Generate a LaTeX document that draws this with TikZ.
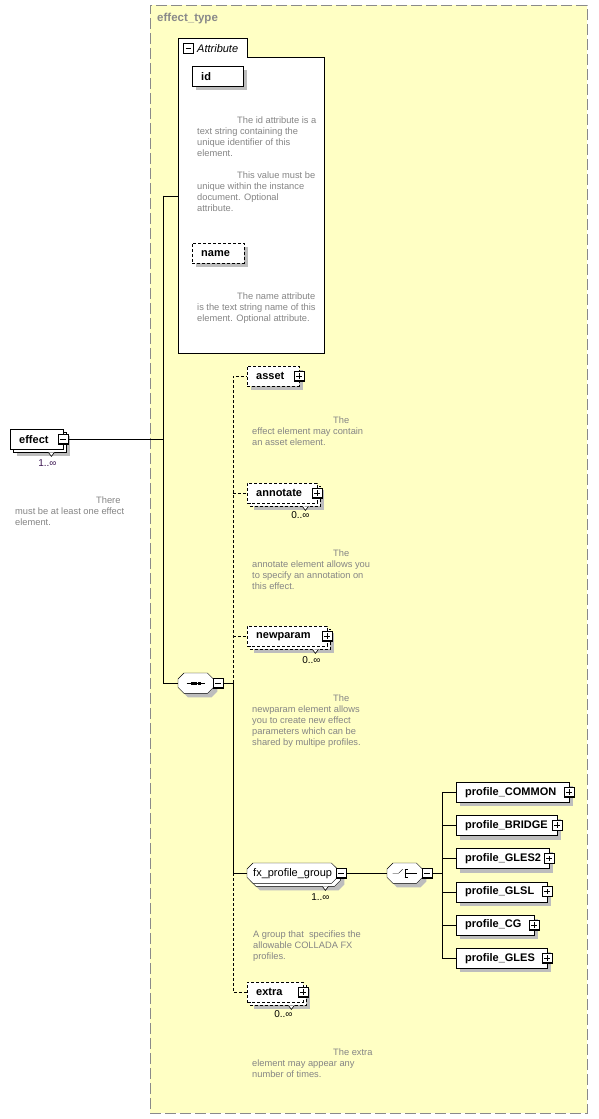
\documentclass[tikz,border=0pt]{standalone}
\usepackage{fontspec}
\setmainfont{Liberation Sans}
\usepackage{tikz}
\usetikzlibrary{positioning}
\usepackage{xcolor}
\definecolor{TypeFill}{HTML}{FFFFC4}
\definecolor{TypeLine}{HTML}{8A8A8A}
\definecolor{DocGray}{HTML}{858585}
\definecolor{ShadowGray}{HTML}{BDBDBD}
\definecolor{OccPurple}{HTML}{3A1450}

\newcommand{\xsdname}{\fontsize{11}{12}\selectfont\bfseries\hyphenpenalty=10000\relax}
\newcommand{\xsdplain}{\fontsize{11}{12}\selectfont\hyphenpenalty=10000\relax}
\newcommand{\xsddoc}{\fontsize{9.3}{11}\selectfont}
\newcommand{\xsdocc}{\fontsize{10}{12}\selectfont}
% octagon round node #1, moved by #2 pt to the lower right
\newcommand{\octo}[2]{([xshift=#2pt+6pt,yshift=-#2pt]#1.north west) -- ([xshift=#2pt-6pt,yshift=-#2pt]#1.north east)
  -- ([xshift=#2pt,yshift=-#2pt-6pt]#1.north east) -- ([xshift=#2pt,yshift=-#2pt+6pt]#1.south east)
  -- ([xshift=#2pt-6pt,yshift=-#2pt]#1.south east) -- ([xshift=#2pt+6pt,yshift=-#2pt]#1.south west)
  -- ([xshift=#2pt,yshift=-#2pt+6pt]#1.south west) -- ([xshift=#2pt,yshift=-#2pt-6pt]#1.north west) -- cycle}

\pgfdeclarelayer{frame}
\pgfdeclarelayer{shade}
\pgfsetlayers{frame,shade,main}

\begin{document}
\begin{tikzpicture}[x=1pt, y=-1pt, line width=0.9pt,
    elem/.style={draw, fill=white, minimum height=20pt, inner xsep=9pt, inner ysep=0pt,
                 text width=#1, align=left, font=\xsdname, anchor=north west},
    opt/.style={dash pattern=on 3pt off 2pt},
    shadowfill/.style={fill=ShadowGray, draw=none},
    btn/.style={draw, fill=white, line width=0.7pt, minimum size=10pt, inner sep=0pt},
    minusbtn/.style={btn, path picture={
        \draw[line width=1.6pt] (path picture bounding box.north east) -- (path picture bounding box.south east)
              -- (path picture bounding box.south west);
        \draw[line width=0.8pt] ([xshift=2pt]path picture bounding box.west) -- ([xshift=-2.5pt]path picture bounding box.east);}},
    plusbtn/.style={btn, path picture={
        \draw[line width=1.6pt] (path picture bounding box.north east) -- (path picture bounding box.south east)
              -- (path picture bounding box.south west);
        \draw[line width=0.8pt] ([xshift=2pt]path picture bounding box.west) -- ([xshift=-2.5pt]path picture bounding box.east)
              ([xshift=-0.3pt,yshift=2.5pt]path picture bounding box.south) -- ([xshift=-0.3pt,yshift=-2pt]path picture bounding box.north);}},
    comp/.style={minimum width=35pt, minimum height=20pt, inner sep=0pt, anchor=north west},
    doc/.style={anchor=north west, inner sep=0pt, align=left, font=\xsddoc, text=DocGray},
    occ/.style={font=\xsdocc, inner sep=0pt}
  ]
  \begin{pgfonlayer}{frame}
    \path[use as bounding box, fill=white] (0,0) rectangle (598,1119);
    % complex type frame
    \node[draw=TypeLine, fill=TypeFill, dash pattern=on 11pt off 4pt, minimum width=437pt,
          minimum height=1108pt, inner sep=0pt, anchor=north west] (etype) at (150,5) {};
    % attribute box
    \node[minimum width=146pt, minimum height=315pt, inner sep=0pt, anchor=north west] (attrs) at (178,38) {};
    \draw[fill=white] (attrs.north west) -- ++(69,0) -- ++(0,19) -| (attrs.south east) -- (attrs.south west) -- cycle;
  \end{pgfonlayer}
  \node[anchor=north west, inner sep=0pt, font=\fontsize{11.5}{13}\selectfont\bfseries, text=TypeLine] (etypelbl) at (157,13) {effect\_type};

  % attributes
  \node[minusbtn] (attrs-b) at (188.5,48.5) {};
  \node[anchor=west, inner sep=0pt, font=\fontsize{11}{12}\selectfont\itshape] (attrslbl) at (197,48.5) {Attribute};
  \node[elem=33pt] (id) at (192,66) {id};
  \node[doc] (id-d) at (197,117) {\hspace*{40pt}The id attribute is a\\text string containing the\\unique identifier of this\\element.};
  \node[doc] (id-d2) at (197,172) {\hspace*{40pt}This value must be\\unique within the instance\\document. Optional\\attribute.};
  \node[elem=34pt, opt] (name) at (192,243) {name};
  \node[doc] (name-d) at (197,293) {\hspace*{40pt}The name attribute\\is the text string name of this\\element. Optional attribute.};

  % the element
  \node[elem=35pt] (effect) at (10,429) {effect};
  \node[minusbtn] (effect-b) at (effect.east) {};
  \node[occ, text=OccPurple] (effect-o) at ([xshift=-16pt,yshift=-14pt]effect.south east) {1..∞};
  \node[doc] (effect-d) at (15,497) {\hspace*{81pt}There\\must be at least one effect\\element.};

  % sequence
  \node[comp] (seq) at (178,673) {};
  \node[minusbtn] (seq-b) at ([xshift=5pt]seq.east) {};
  \draw ([xshift=-9pt]seq.center) -- ([xshift=9pt]seq.center);
  \foreach \dx in {-3.5,0,3.5}
    \fill ([xshift=\dx pt]seq.center) ++(-1.3pt,-1.3pt) rectangle ++(2.6pt,2.6pt);
  \coordinate (spine) at (163,0);
  \draw (effect-b.east) -- (spine |- effect.east);
  \draw (spine |- attrs.west) -- (attrs.west);
  \draw (spine |- attrs.west) -- (spine |- seq.west) -- (seq.west);

  \node[elem=34pt, opt] (asset) at (247,366) {asset};
  \node[elem=52pt, opt] (annotate) at (247,483) {annotate};
  \node[elem=62pt, opt] (newparam) at (247,626) {newparam};
  \node[comp, text width=78pt, inner xsep=6pt, align=left, font=\xsdplain] (fxgroup) at (247,863) {fx\_profile\_group};
  \node[elem=38pt, opt] (extra) at (247,982) {extra};
  \foreach \n in {asset,annotate,newparam,extra}
    \node[plusbtn] (\n-b) at (\n.east) {};
  \node[minusbtn] (fxgroup-b) at ([xshift=4pt]fxgroup.east) {};

  \node[occ] (annotate-o) at ([xshift=-17pt,yshift=-12pt]annotate.south east) {0..∞};
  \node[occ] (newparam-o) at ([xshift=-16pt,yshift=-14pt]newparam.south east) {0..∞};
  \node[occ] (fxgroup-o) at ([xshift=-17pt,yshift=-14pt]fxgroup.south east) {1..∞};
  \node[occ] (extra-o) at ([xshift=-20pt,yshift=-12pt]extra.south east) {0..∞};

  \node[doc] (asset-d) at (252,417) {\hspace*{81pt}The\\effect element may contain\\an asset element.};
  \node[doc] (annotate-d) at (252,550) {\hspace*{81pt}The\\annotate element allows you\\to specify an annotation on\\this effect.};
  \node[doc] (newparam-d) at (252,695) {\hspace*{81pt}The\\newparam element allows\\you to create new effect\\parameters which can be\\shared by multipe profiles.};
  \node[doc] (fxgroup-d) at (253,931) {A group that~ specifies the\\allowable COLLADA FX\\profiles.};
  \node[doc] (extra-d) at (252,1049) {\hspace*{81pt}The extra\\element may appear any\\number of times.};

  \coordinate (branch) at ([xshift=9pt]seq-b.east);
  \draw (seq-b.east) -- (branch);
  \draw[opt] (branch) -- (branch |- asset.west) -- (asset.west);
  \draw[opt] (branch |- annotate.west) -- (annotate.west);
  \draw[opt] (branch |- newparam.west) -- (newparam.west);
  \draw (branch) -- (branch |- fxgroup.west) -- (fxgroup.west);
  \draw[opt] (branch |- fxgroup.west) -- (branch |- extra.west) -- (extra.west);

  % choice of profiles
  \node[comp] (choice) at (387,863) {};
  \node[minusbtn] (choice-b) at ([xshift=5pt]choice.east) {};
  \draw ([xshift=-12pt]choice.center) -- ([xshift=-6pt]choice.center) -- ([xshift=-2pt,yshift=4pt]choice.center);
  \draw ([yshift=4pt]choice.center) -- ([yshift=-4pt]choice.center);
  \foreach \dy in {4,0,-4}
    \draw ([yshift=\dy pt]choice.center) -- ([xshift=3pt,yshift=\dy pt]choice.center);
  \draw ([xshift=3pt]choice.center) -- ([xshift=12pt]choice.center);
  \draw (fxgroup-b.east) -- (choice.west);
  \coordinate (fork) at ([xshift=9pt]choice-b.east);

  \node[elem=95pt] (pcommon) at (456,782) {profile\_COMMON};
  \node[elem=83pt, below=12.8pt of pcommon.south west, anchor=north west] (pbridge) {profile\_BRIDGE};
  \node[elem=75pt, below=12.8pt of pbridge.south west, anchor=north west] (pgles2) {profile\_GLES2};
  \node[elem=73pt, below=12.8pt of pgles2.south west, anchor=north west] (pglsl) {profile\_GLSL};
  \node[elem=60pt, below=12.8pt of pglsl.south west, anchor=north west] (pcg) {profile\_CG};
  \node[elem=73pt, below=12.8pt of pcg.south west, anchor=north west] (pgles) {profile\_GLES};
  \draw (choice-b.east) -- (fork);
  \draw (fork |- pcommon.west) -- (fork |- pgles.west);
  \foreach \p in {pcommon,pbridge,pgles2,pglsl,pcg,pgles} {
    \node[plusbtn] (\p-b) at (\p.east) {};
    \draw (fork |- \p.west) -- (\p.west);
  }

  % shadows, stacked copies and round boxes
  \begin{pgfonlayer}{shade}
    \path[shadowfill] ([xshift=4pt,yshift=-4pt]id.north west) rectangle ([xshift=4pt,yshift=-4pt]id.south east);
    \path[shadowfill] ([xshift=4pt,yshift=-4pt]name.north west) rectangle ([xshift=4pt,yshift=-4pt]name.south east);
    \path[shadowfill] ([xshift=4pt,yshift=-4pt]asset.north west) rectangle ([xshift=4pt,yshift=-4pt]asset.south east);
    \foreach \n in {pcommon,pbridge,pgles2,pglsl,pcg,pgles}
      \path[shadowfill] ([xshift=4pt,yshift=-4pt]\n.north west) rectangle ([xshift=4pt,yshift=-4pt]\n.south east);
    \foreach \n in {effect,annotate,newparam,extra}
      \path[shadowfill] ([xshift=7pt,yshift=-7pt]\n.north west) rectangle ([xshift=7pt,yshift=-7pt]\n.south east);
    \path[shadowfill] \octo{seq}{4};
    \path[shadowfill] \octo{choice}{4};
    \path[shadowfill] \octo{fxgroup}{7};
    \draw[fill=white] ([xshift=3pt,yshift=-3pt]effect.north west) rectangle ([xshift=3pt,yshift=-3pt]effect.south east);
    \foreach \n in {annotate,newparam,extra}
      \draw[fill=white, opt] ([xshift=3pt,yshift=-3pt]\n.north west) rectangle ([xshift=3pt,yshift=-3pt]\n.south east);
    \draw[fill=white] \octo{fxgroup}{3};
    \foreach \n in {seq,choice,fxgroup}
      \draw[fill=white] \octo{\n}{0};
  \end{pgfonlayer}
  \foreach \n in {effect,annotate,newparam,fxgroup,extra}
    \draw[fill=white, line width=0.6pt] ([xshift=-15pt,yshift=-3pt]\n.south east) -- ++(3,4) -- ++(3,-4);
\end{tikzpicture}
\end{document}
